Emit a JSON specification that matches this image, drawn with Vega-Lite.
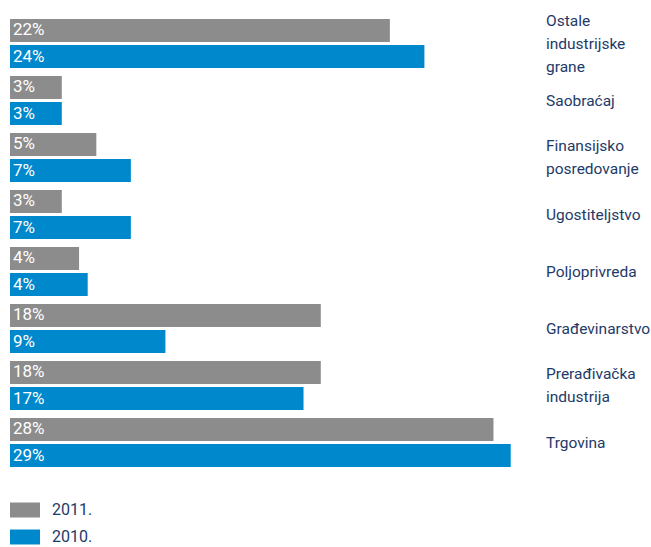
{
  "$schema": "https://vega.github.io/schema/vega-lite/v6.json",
  "width": 518,
  "height": 456,
  "padding": {"left": 10, "top": 15, "right": 123, "bottom": 76},
  "autosize": {"type": "none"},
  "background": "white",
  "config": {"view": {"stroke": null}, "font": "Roboto"},
  "data": {
    "values": [
      {"sector": "Ostale|industrijske|grane", "year": "2011.", "value": 22, "label": "22%"},
      {"sector": "Ostale|industrijske|grane", "year": "2010.", "value": 24, "label": "24%"},
      {"sector": "Saobraćaj", "year": "2011.", "value": 3, "label": "3%"},
      {"sector": "Saobraćaj", "year": "2010.", "value": 3, "label": "3%"},
      {"sector": "Finansijsko|posredovanje", "year": "2011.", "value": 5, "label": "5%"},
      {"sector": "Finansijsko|posredovanje", "year": "2010.", "value": 7, "label": "7%"},
      {"sector": "Ugostiteljstvo", "year": "2011.", "value": 3, "label": "3%"},
      {"sector": "Ugostiteljstvo", "year": "2010.", "value": 7, "label": "7%"},
      {"sector": "Poljoprivreda", "year": "2011.", "value": 4, "label": "4%"},
      {"sector": "Poljoprivreda", "year": "2010.", "value": 4.5, "label": "4%"},
      {"sector": "Građevinarstvo", "year": "2011.", "value": 18, "label": "18%"},
      {"sector": "Građevinarstvo", "year": "2010.", "value": 9, "label": "9%"},
      {"sector": "Prerađivačka|industrija", "year": "2011.", "value": 18, "label": "18%"},
      {"sector": "Prerađivačka|industrija", "year": "2010.", "value": 17, "label": "17%"},
      {"sector": "Trgovina", "year": "2011.", "value": 28, "label": "28%"},
      {"sector": "Trgovina", "year": "2010.", "value": 29, "label": "29%"}
    ]
  },
  "encoding": {
    "y": {
      "field": "sector",
      "type": "nominal",
      "sort": null,
      "scale": {"paddingInner": 0.14, "paddingOuter": 0.07},
      "axis": null
    },
    "x": {
      "field": "value",
      "type": "quantitative",
      "scale": {"domain": [0, 30]},
      "axis": null
    }
  },
  "layer": [
    {
      "mark": {"type": "bar"},
      "encoding": {
        "yOffset": {
          "field": "year",
          "type": "nominal",
          "sort": ["2011.", "2010."],
          "scale": {"paddingInner": 0.115, "paddingOuter": 0}
        },
        "color": {
          "field": "year",
          "type": "nominal",
          "sort": ["2011.", "2010."],
          "scale": {"domain": ["2011.", "2010."], "range": ["#8c8c8c", "#0088cc"]},
          "legend": {
            "title": null,
            "orient": "none",
            "legendX": 0,
            "legendY": 480,
            "padding": 0,
            "symbolType": "M-1,-0.5H1V0.5H-1Z",
            "symbolSize": 900,
            "symbolStrokeWidth": 0,
            "symbolOpacity": 1,
            "labelFontSize": 16,
            "labelColor": "#1e3a68",
            "labelOffset": 12,
            "rowPadding": 4
          }
        }
      }
    },
    {
      "mark": {"type": "text", "align": "left", "baseline": "middle", "dx": 3, "fontSize": 17, "color": "white"},
      "encoding": {
        "yOffset": {
          "field": "year",
          "type": "nominal",
          "sort": ["2011.", "2010."],
          "scale": {"paddingInner": 0.115, "paddingOuter": 0}
        },
        "x": {"datum": 0},
        "text": {"field": "label"}
      }
    },
    {
      "transform": [
        {"filter": "datum.year == '2011.' && !test(/[|]/, datum.sector)"}
      ],
      "mark": {"type": "text", "align": "left", "baseline": "middle", "dx": 18, "fontSize": 15.5, "color": "#1e3a68"},
      "encoding": {
        "x": {"datum": 30},
        "text": {"field": "sector"}
      }
    },
    {
      "transform": [
        {"filter": "datum.year == '2011.' && test(/^[^|]*[|][^|]*$/, datum.sector)"}
      ],
      "mark": {"type": "text", "align": "left", "baseline": "middle", "dx": 18, "dy": -11.5, "fontSize": 15.5, "lineHeight": 23, "lineBreak": "|", "color": "#1e3a68"},
      "encoding": {
        "x": {"datum": 30},
        "text": {"field": "sector"}
      }
    },
    {
      "transform": [
        {"filter": "datum.year == '2011.' && test(/[|].*[|]/, datum.sector)"}
      ],
      "mark": {"type": "text", "align": "left", "baseline": "middle", "dx": 18, "dy": -23, "fontSize": 15.5, "lineHeight": 23, "lineBreak": "|", "color": "#1e3a68"},
      "encoding": {
        "x": {"datum": 30},
        "text": {"field": "sector"}
      }
    }
  ]
}
